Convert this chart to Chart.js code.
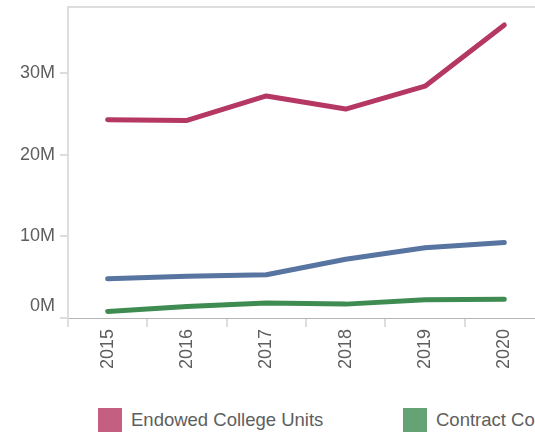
<!DOCTYPE html>
<html>
<head>
<meta charset="utf-8">
<script src="https://cdn.jsdelivr.net/npm/chart.js@4/dist/chart.umd.min.js"></script>
<style>
  html, body { margin: 0; padding: 0; background: #fff; overflow: hidden; width: 535px; height: 432px; }
  #wrap { position: absolute; left: 0; top: 0; width: 545px; height: 380px; }
  #legend { position: absolute; left: 98px; top: 408px; white-space: nowrap; font-family: "Liberation Sans", Arial, sans-serif; font-size: 18.5px; color: #5e5e5e; }
  .item { display: inline-block; width: 305px; height: 24px; line-height: 24px; }
  .box { display: inline-block; width: 24px; height: 24px; vertical-align: top; margin-right: 9px; }
</style>
</head>
<body>
<div id="wrap"><canvas id="myChart"></canvas></div>
<div id="legend"></div>
<script>
// Datos (en unidades, eje en millones)
const years = ['2015', '2016', '2017', '2018', '2019', '2020'];
const endowed = [24.3e6, 24.2e6, 27.2e6, 25.6e6, 28.4e6, 35.9e6];
const contract = [0.8e6, 1.4e6, 1.85e6, 1.7e6, 2.25e6, 2.3e6];
const other = [4.8e6, 5.1e6, 5.3e6, 7.2e6, 8.6e6, 9.25e6];
const yTicks = [0, 10e6, 20e6, 30e6];

const series = [
    { label: 'Endowed College Units', data: endowed, color: '#b53763', legend: 'rgba(181,55,99,0.8)' },
    { label: 'Contract College Units', data: contract, color: '#3e8c52', legend: 'rgba(62,140,82,0.8)' },
    { label: 'Other Units', data: other, color: '#5874a0', legend: 'rgba(88,116,160,0.8)' }
];

// línea superior del marco
const topLine = {
    id: 'topLine',
    beforeDatasetsDraw(chart) {
        const a = chart.chartArea;
        const ctx = chart.ctx;
        ctx.save();
        ctx.strokeStyle = '#dddddd';
        ctx.lineWidth = 2;
        ctx.beginPath();
        ctx.moveTo(a.left, a.top);
        ctx.lineTo(a.right + 10, a.top);
        ctx.stroke();
        ctx.restore();
    }
};

const font = { family: '"Liberation Sans", Arial, sans-serif', size: 18 };

const ctx = document.getElementById('myChart').getContext('2d');
const myChart = new Chart(ctx, {
    type: 'line',
    data: {
        labels: years,
        datasets: series.map(s => ({
            label: s.label,
            data: s.data,
            borderColor: s.color,
            backgroundColor: s.color,
            borderWidth: 5,
            borderCapStyle: 'round',
            borderJoinStyle: 'round',
            pointRadius: 0,
            tension: 0
        }))
    },
    options: {
        responsive: true,
        maintainAspectRatio: false,
        animation: false,
        layout: { padding: { top: 7, right: 1, left: 0, bottom: 0 } },
        plugins: { legend: { display: false }, tooltip: { enabled: false } },
        scales: {
            x: {
                offset: true,
                grid: { offset: true, drawOnChartArea: false, drawTicks: true, tickLength: 9, color: '#dddddd', lineWidth: 2 },
                border: { display: true, color: '#b5b5b5', width: 1, dash: [3, 3] },
                ticks: { color: '#5e5e5e', font, minRotation: 90, maxRotation: 90, padding: 2 },
                afterFit(scale) {
                    scale.height = 380 - 318;
                    scale.paddingLeft = 0;
                    scale.paddingRight = 0;
                }
            },
            y: {
                min: 0,
                max: 38.1e6,
                grid: { drawOnChartArea: false, drawTicks: true, tickLength: 8, color: '#dddddd', lineWidth: 2 },
                border: { display: true, color: '#dddddd', width: 2 },
                afterBuildTicks(scale) { scale.ticks = yTicks.map(v => ({ value: v })); },
                ticks: {
                    color: '#5e5e5e',
                    font: { ...font, lineHeight: 1.37 },
                    padding: 5,
                    callback: v => v === 0 ? ['0M', ''] : (v / 1e6) + 'M'
                },
                afterFit(scale) {
                    scale.width = 68;
                    scale.paddingTop = 0;
                    scale.paddingBottom = 0;
                }
            }
        }
    },
    plugins: [topLine]
});

// Leyenda en HTML
const legend = document.getElementById('legend');
series.forEach(s => {
    const item = document.createElement('span');
    item.className = 'item';
    item.innerHTML = `<span class="box" style="background:${s.legend}"></span>${s.label}`;
    legend.appendChild(item);
});
</script>
</body>
</html>
